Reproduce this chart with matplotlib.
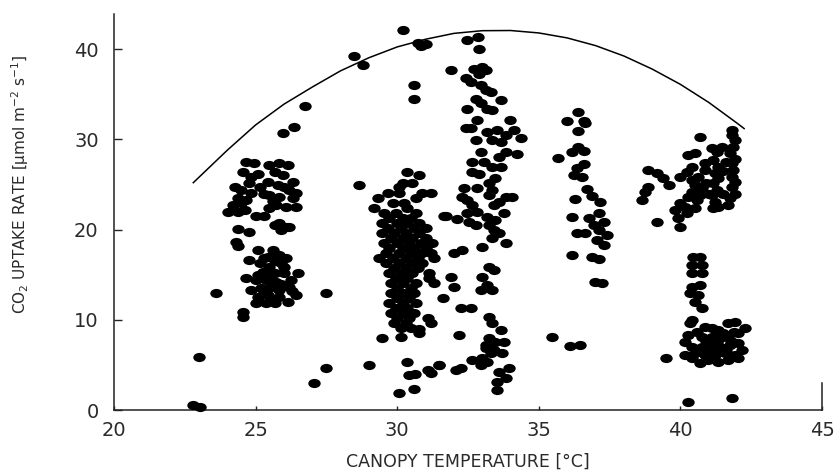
import matplotlib
matplotlib.use("Agg")
import matplotlib.pyplot as plt
import numpy as np
from matplotlib.path import Path
from matplotlib.transforms import Affine2D

# (canopy temperature [C], CO2 uptake rate), grouped by cluster
group_23_27 = [
    (22.79, 0.56), (23.02, 0.38), (22.99, 5.92), (23.59, 12.93),
    (24.67, 27.52), (24.96, 27.41), (24.55, 26.41), (24.84, 25.86), (24.26, 24.75),
    (24.49, 24.38), (24.78, 25.12), (24.37, 23.46), (24.67, 23.27), (24.20, 22.72),
    (24.02, 21.98), (24.37, 21.98), (24.61, 22.17), (25.02, 21.50), (25.31, 21.50),
    (24.84, 24.01), (25.14, 24.75), (25.10, 26.20), (24.50, 23.00), (25.30, 24.00),
    (25.49, 27.15), (25.84, 27.34), (26.13, 27.15), (25.67, 26.41), (25.96, 26.04),
    (26.31, 25.30), (25.43, 25.30), (25.78, 24.93), (26.19, 24.38), (26.43, 24.01),
    (25.49, 23.83), (25.84, 23.64), (26.31, 23.46), (25.72, 22.72), (26.08, 22.53),
    (26.43, 22.53), (25.49, 22.35), (26.00, 24.70), (25.60, 23.20),
    (25.84, 20.69), (25.67, 20.50), (26.08, 20.32), (25.90, 19.95), (26.19, 20.24),
    (24.37, 20.02), (24.78, 19.77), (24.32, 18.66), (24.37, 18.18),
    (25.08, 17.73), (25.61, 17.73), (25.43, 17.00), (25.84, 17.18), (24.78, 16.63),
    (25.14, 16.26), (25.49, 15.89), (25.90, 16.26), (26.08, 16.81), (25.25, 15.33),
    (25.67, 15.15), (26.02, 15.15), (26.49, 15.15), (24.67, 14.60), (25.02, 14.41),
    (25.37, 14.41), (25.72, 14.23), (26.25, 14.41), (24.84, 13.30), (25.20, 13.49),
    (25.55, 13.67), (25.84, 13.30), (26.19, 13.67), (26.43, 12.75), (25.08, 12.56),
    (25.43, 12.75), (25.84, 12.56), (25.02, 11.83), (25.37, 11.83), (25.67, 11.83),
    (26.13, 12.01), (24.55, 10.90), (24.55, 10.35), (25.30, 16.80), (25.70, 16.50),
    (25.10, 15.00), (25.50, 14.80), (25.90, 14.00), (25.30, 13.00), (26.30, 13.20),
    (25.60, 12.30), (26.00, 15.80),
    (25.95, 30.70), (26.37, 31.40), (26.75, 33.70), (27.49, 13.00), (27.48, 4.62),
    (27.07, 2.96),
]

group_28_32 = [
    (30.19, 42.11), (28.49, 39.22), (28.78, 38.23), (30.72, 40.63), (31.01, 40.56),
    (30.83, 40.33), (30.60, 36.01), (30.60, 34.53), (28.66, 24.93), (31.65, 21.50),
    (30.36, 26.41), (30.78, 26.04), (30.19, 25.12), (30.54, 25.12), (30.07, 24.75),
    (29.66, 24.01), (30.07, 24.01), (30.89, 24.01), (31.19, 24.01),
    (29.31, 23.45), (30.66, 23.45), (29.84, 22.90), (30.25, 22.90),
    (29.19, 22.35), (30.36, 22.35), (29.54, 21.79), (29.95, 21.79), (30.66, 21.79),
    (29.72, 21.24), (30.19, 21.24), (30.48, 21.24),
    (29.48, 20.68), (30.01, 20.68), (30.36, 20.68), (30.78, 20.68),
    (29.66, 20.13), (30.13, 20.13), (30.60, 20.13), (31.01, 20.13),
    (29.48, 19.58), (29.89, 19.58), (30.31, 19.58), (30.78, 19.58),
    (29.78, 19.02), (30.19, 19.02), (30.54, 19.02), (31.01, 19.02),
    (29.54, 18.47), (30.01, 18.47), (30.42, 18.47), (30.83, 18.47), (31.24, 18.47),
    (29.72, 17.91), (30.19, 17.91), (30.60, 17.91), (31.01, 17.91),
    (29.60, 17.36), (30.07, 17.36), (30.48, 17.36), (30.89, 17.36), (31.19, 17.36),
    (29.37, 16.81), (29.84, 16.81), (30.31, 16.81), (30.72, 16.81), (31.30, 16.81),
    (29.60, 16.25), (30.07, 16.25), (30.48, 16.25), (30.89, 16.25),
    (29.89, 15.70), (30.31, 15.70), (30.72, 15.70),
    (29.72, 15.14), (30.13, 15.14), (30.54, 15.14), (31.13, 15.14),
    (29.95, 14.59), (30.36, 14.59), (31.13, 14.59),
    (29.78, 14.04), (30.19, 14.04), (30.66, 14.04), (31.30, 14.04),
    (30.01, 13.48), (30.48, 13.48), (29.78, 12.93), (30.19, 12.93), (30.60, 12.93),
    (30.01, 12.37), (30.42, 12.37), (31.60, 12.37),
    (29.72, 11.82), (30.19, 11.82), (30.66, 11.82), (29.95, 11.27), (30.36, 11.27),
    (29.78, 10.71), (30.19, 10.71), (30.60, 10.71),
    (30.01, 10.16), (30.42, 10.16), (31.07, 10.16), (29.89, 9.60), (30.31, 9.60),
    (31.19, 9.60), (30.13, 9.05), (30.48, 9.05), (30.78, 8.94), (30.78, 8.50),
    (30.13, 8.13), (29.48, 8.02),
    (28.99, 4.99), (30.36, 5.36), (30.42, 3.88), (30.63, 4.00), (30.07, 1.85),
    (30.60, 2.29), (31.07, 4.43), (31.19, 4.14), (31.48, 4.99),
]

group_32_35 = [
    (32.48, 41.00), (32.86, 41.36), (32.89, 40.07), (31.89, 37.67), (32.71, 37.85),
    (33.01, 38.04), (33.12, 37.74), (32.89, 37.30), (32.42, 36.75), (32.59, 36.38),
    (32.95, 36.01), (33.12, 35.45), (33.30, 35.27), (33.65, 34.35), (32.77, 34.53),
    (32.95, 33.98), (32.48, 33.42), (33.18, 33.42), (33.36, 33.24), (32.83, 32.13),
    (32.59, 31.21), (32.42, 31.21), (33.18, 30.84), (33.53, 31.02), (34.00, 32.13),
    (34.12, 31.02), (33.83, 30.47), (34.36, 30.10), (33.36, 29.91), (33.65, 29.73),
    (32.77, 29.91), (34.24, 28.43), (33.83, 28.62), (33.59, 28.07), (32.95, 28.62),
    (32.65, 27.51), (33.06, 27.51), (33.36, 26.96), (33.65, 26.96), (32.65, 26.40),
    (32.89, 26.20), (33.47, 25.67), (33.24, 25.11), (32.36, 24.56), (32.83, 24.56),
    (33.36, 24.37), (33.83, 23.63), (34.06, 23.63), (32.30, 23.63), (32.48, 23.27),
    (32.65, 22.71), (33.24, 23.82), (33.41, 22.71), (33.59, 23.08), (32.48, 21.79),
    (32.83, 21.97), (33.18, 21.42), (33.47, 21.05), (33.77, 21.79), (31.71, 21.49),
    (32.12, 21.12), (32.54, 20.87), (32.77, 20.50), (33.24, 20.50), (33.41, 19.94),
    (33.59, 19.57), (33.36, 19.02), (33.83, 18.46), (33.01, 18.09), (32.01, 17.36),
    (32.30, 17.72), (33.24, 15.88), (33.41, 15.51), (33.01, 14.77), (33.18, 13.85),
    (33.36, 13.30), (32.95, 13.30), (31.89, 14.77), (32.01, 13.66),
    (32.24, 11.26), (32.59, 11.26), (33.24, 10.34), (33.36, 9.60), (33.65, 8.86),
    (33.24, 7.94), (33.47, 7.57), (33.77, 7.57), (33.12, 6.83), (33.41, 6.64),
    (33.71, 6.28), (32.18, 8.31), (32.65, 5.54), (33.01, 5.72), (33.30, 6.28),
    (32.07, 4.43), (32.24, 4.61), (31.48, 4.98), (33.59, 4.24), (33.94, 4.61),
    (33.53, 3.14), (33.83, 3.50), (33.53, 2.21), (33.12, 7.20), (32.95, 4.99),
    (33.18, 5.36), (35.45, 8.10),
]

group_35_38 = [
    (36.39, 33.06), (36.00, 32.06), (36.58, 32.06), (36.64, 31.77), (36.39, 30.95),
    (36.39, 29.18), (36.18, 28.63), (36.58, 28.74), (35.68, 27.89), (36.58, 27.26),
    (36.35, 26.78), (36.23, 26.04), (36.53, 25.78), (36.70, 24.45), (36.88, 23.71),
    (37.17, 23.09), (36.27, 23.35), (36.17, 21.42), (36.76, 21.24), (37.11, 21.87),
    (37.29, 20.87), (36.94, 20.50), (36.35, 19.65), (36.64, 19.58), (37.11, 19.95),
    (37.41, 19.39), (37.29, 18.28), (37.05, 18.84), (36.17, 17.18), (36.88, 16.99),
    (37.11, 16.70), (36.99, 14.22), (37.23, 14.04), (36.10, 7.10), (36.45, 7.20),
]

group_38_43 = [
    (41.81, 31.02), (41.81, 30.47), (41.93, 29.91), (41.87, 29.18), (41.75, 28.44),
    (41.93, 27.88), (41.81, 27.33), (41.87, 26.59), (41.81, 25.85), (41.93, 25.30),
    (41.81, 24.74), (41.93, 24.00), (41.75, 23.45), (41.69, 22.71), (41.34, 22.53),
    (41.16, 22.34), (41.22, 23.08), (41.10, 23.82), (41.28, 24.37), (41.16, 25.11),
    (41.34, 25.67), (41.22, 26.22), (41.34, 26.96), (41.16, 27.70), (41.28, 28.62),
    (41.46, 29.18), (41.10, 28.99), (40.87, 27.33), (40.87, 26.59), (40.63, 25.85),
    (40.52, 24.93), (40.75, 24.56), (40.40, 24.19), (40.69, 23.82), (40.58, 23.27),
    (40.52, 22.34), (40.16, 22.53), (40.28, 23.64), (39.99, 25.85), (40.22, 26.41),
    (40.40, 26.96), (40.28, 28.25), (40.52, 28.44), (40.69, 30.28),
    (41.50, 26.50), (41.50, 24.00), (41.60, 27.50), (40.90, 25.20), (40.40, 25.50),
    (41.00, 24.00),
    (38.87, 26.59), (39.17, 26.22), (39.40, 25.67), (39.58, 24.93), (38.87, 24.74),
    (38.76, 24.19), (38.64, 23.27), (39.99, 22.90), (39.81, 22.16), (40.22, 21.79),
    (39.93, 21.23), (39.99, 20.31), (39.17, 20.87),
    (40.46, 16.99), (40.69, 16.99), (40.40, 16.07), (40.75, 16.07), (40.40, 15.15),
    (40.75, 15.15), (40.40, 13.67), (40.69, 13.85), (40.34, 12.93), (40.63, 12.75),
    (40.52, 12.01), (40.75, 11.27), (40.40, 9.98), (40.34, 9.61),
    (40.87, 9.24), (41.10, 9.05), (41.34, 8.87), (41.69, 9.61), (41.92, 9.79),
    (42.28, 9.05), (42.04, 8.50), (41.69, 8.13), (41.40, 7.94), (41.10, 8.13),
    (40.75, 8.13), (40.28, 8.31), (40.16, 7.57), (40.40, 7.02), (40.75, 7.02),
    (41.10, 7.20), (41.40, 7.02), (41.75, 7.20), (42.04, 7.39), (42.16, 6.65),
    (41.92, 6.10), (41.57, 6.28), (41.22, 6.10), (40.87, 6.10), (40.52, 6.28),
    (40.16, 6.10), (42.04, 5.73), (41.69, 5.54), (41.34, 5.36), (40.99, 5.54),
    (40.69, 5.17), (40.40, 5.73), (41.50, 8.50), (41.80, 7.60), (41.30, 7.50),
    (40.90, 7.60), (41.90, 8.60), (40.60, 8.70), (41.60, 6.70), (41.10, 6.60),
    (39.48, 5.73), (40.28, 0.93), (41.81, 1.30),
]

# upper boundary line
curve_temp = [22.8, 24, 25, 26, 27, 28, 29, 30, 31, 32, 33, 34, 35, 36, 37, 38,
              39, 40, 41, 42, 42.25]
curve_rate = [25.2, 28.8, 31.6, 33.9, 35.8, 37.6, 39.05, 40.25, 41.1, 41.75, 42.05,
              42.07, 41.8, 41.25, 40.4, 39.25, 37.8, 36.1, 34.1, 31.8, 31.2]

points = np.array(group_23_27 + group_28_32 + group_32_35 + group_35_38 + group_38_43)

plt.rcParams['font.family'] = ['DejaVu Sans']
plt.rcParams['mathtext.fontset'] = 'dejavusans'
txt = '#2a2a2a'

fig = plt.figure(figsize=(8.4, 4.73), dpi=100)
ax = fig.add_axes([114 / 840, 63 / 473, 708 / 840, 396 / 473])

# the source image is stretched sideways, so the dots are slightly wide ellipses
dot = Affine2D().scale(1.35, 1.0).transform_path(Path.unit_circle())
ax.scatter(points[:, 0], points[:, 1], marker=dot, s=80, c='black',
           linewidths=0, zorder=3, clip_on=False)
ax.plot(curve_temp, curve_rate, color='black', lw=1.1, zorder=2)

ax.set_xlim(20, 45)
ax.set_ylim(0, 43.9)
ax.set_xticks([20, 25, 30, 35, 40, 45])
ax.set_yticks([0, 10, 20, 30, 40])

ax.spines['top'].set_visible(False)
ax.spines['right'].set_bounds(0, 3.0)
for s in ['left', 'bottom', 'right']:
    ax.spines[s].set_linewidth(1.1)
    ax.spines[s].set_color('#222222')

ax.tick_params(axis='x', direction='in', length=3, width=1, pad=8,
               labelsize=14, labelcolor=txt, color='#222222')
ax.tick_params(axis='y', direction='in', length=6, width=1, pad=11,
               labelsize=14, labelcolor=txt, color='#222222')

ax.set_xlabel('CANOPY TEMPERATURE [°C]', fontsize=12.5, color=txt)
ax.xaxis.set_label_coords(0.5, -0.108)
ax.set_ylabel('CO$_2$ UPTAKE RATE [µmol m$^{-2}$ s$^{-1}$]', fontsize=11, color=txt)
ax.yaxis.set_label_coords(-0.117, 0.571)

fig.savefig('out.png', dpi=100)
